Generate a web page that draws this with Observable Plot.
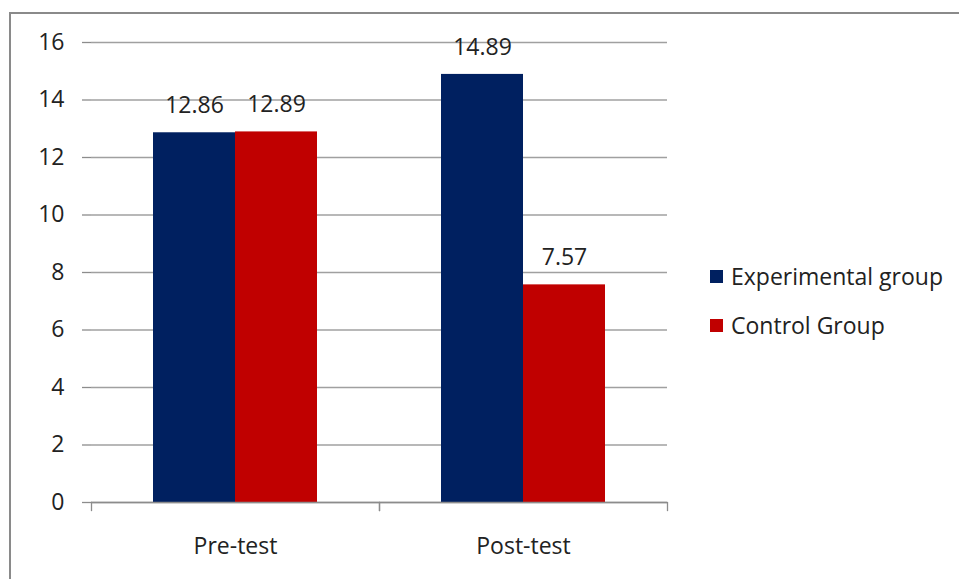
<!DOCTYPE html>
<html>
<head>
<meta charset="utf-8">
<script src="https://cdn.jsdelivr.net/npm/d3@7"></script>
<script src="https://cdn.jsdelivr.net/npm/@observablehq/plot@0.6"></script>
<style>
  html, body { margin: 0; padding: 0; background: #fff; overflow: hidden; }
  #wrap { position: relative; width: 959px; height: 579px; overflow: hidden; font-family: "Open Sans", sans-serif; }
  #border { position: absolute; left: 9px; top: 12px; width: 1100px; height: 1100px; border: 2px solid #8a8a8a; box-sizing: border-box; pointer-events: none; }
  #legend { position: absolute; left: 710px; top: 0; font-size: 23px; color: #222; }
  .item { position: absolute; left: 0; white-space: nowrap; display: flex; align-items: center; height: 30px; }
  .sw { width: 13px; height: 13px; margin-right: 8px; display: inline-block; }
  svg { position: absolute; left: 0; top: 0; }
</style>
</head>
<body>
<div id="wrap">
  <div id="chart"></div>
  <div id="border"></div>
  <div id="legend"></div>
</div>
<script>
const categories = ["Pre-test", "Post-test"];
const groups = ["Experimental group", "Control Group"];
const experimental = [12.86, 14.89];
const control = [12.89, 7.57];
const colors = ["#002060", "#C00000"];
const yTicks = [0, 2, 4, 6, 8, 10, 12, 14, 16];

const rows = [];
categories.forEach((c, i) => {
  rows.push({category: c, group: groups[0], value: experimental[i]});
  rows.push({category: c, group: groups[1], value: control[i]});
});

const gridColor = "#a0a0a0";
const axisColor = "#8c8c8c";

const chart = Plot.plot({
  width: 959,
  height: 579,
  marginLeft: 91,
  marginRight: 292,
  marginTop: 42,
  marginBottom: 77,
  style: {fontFamily: "Open Sans, sans-serif", background: "transparent"},
  fx: {domain: categories, padding: 0},
  x: {domain: groups, paddingInner: 0, paddingOuter: 0.756, axis: null},
  y: {domain: [0, 16]},
  color: {domain: groups, range: colors},
  marks: [
    Plot.gridY(yTicks, {stroke: gridColor, strokeOpacity: 1, strokeWidth: 1.3}),
    Plot.axisY(yTicks, {tickSize: 9, tickPadding: 18, fontSize: 23, fill: "#222", stroke: axisColor, strokeWidth: 1.3, label: null, line: true}),
    Plot.barY(rows, {fx: "category", x: "group", y: "value", fill: "group"}),
    Plot.ruleY([0], {stroke: axisColor, strokeWidth: 1.5}),
    Plot.frame({anchor: "left", insetTop: 460, insetBottom: -8, stroke: axisColor, strokeWidth: 1.3}),
    Plot.frame({anchor: "right", insetTop: 460, insetBottom: -8, stroke: axisColor, strokeWidth: 1.3}),
    Plot.text(rows, {fx: "category", x: "group", y: "value", text: d => d.value.toFixed(2), dy: -27, fontSize: 23, fill: "#222"}),
    Plot.axisFx({anchor: "bottom", tickSize: 0, tickPadding: 35, fontSize: 23, fill: "#222", label: null})
  ]
});
document.getElementById("chart").appendChild(chart);

const legend = document.getElementById("legend");
const legendY = [276, 325];
groups.forEach((g, i) => {
  const item = document.createElement("div");
  item.className = "item";
  item.style.top = (legendY[i] - 15) + "px";
  const sw = document.createElement("span");
  sw.className = "sw";
  sw.style.background = colors[i];
  const t = document.createElement("span");
  t.textContent = g;
  item.appendChild(sw);
  item.appendChild(t);
  legend.appendChild(item);
});
</script>
</body>
</html>
